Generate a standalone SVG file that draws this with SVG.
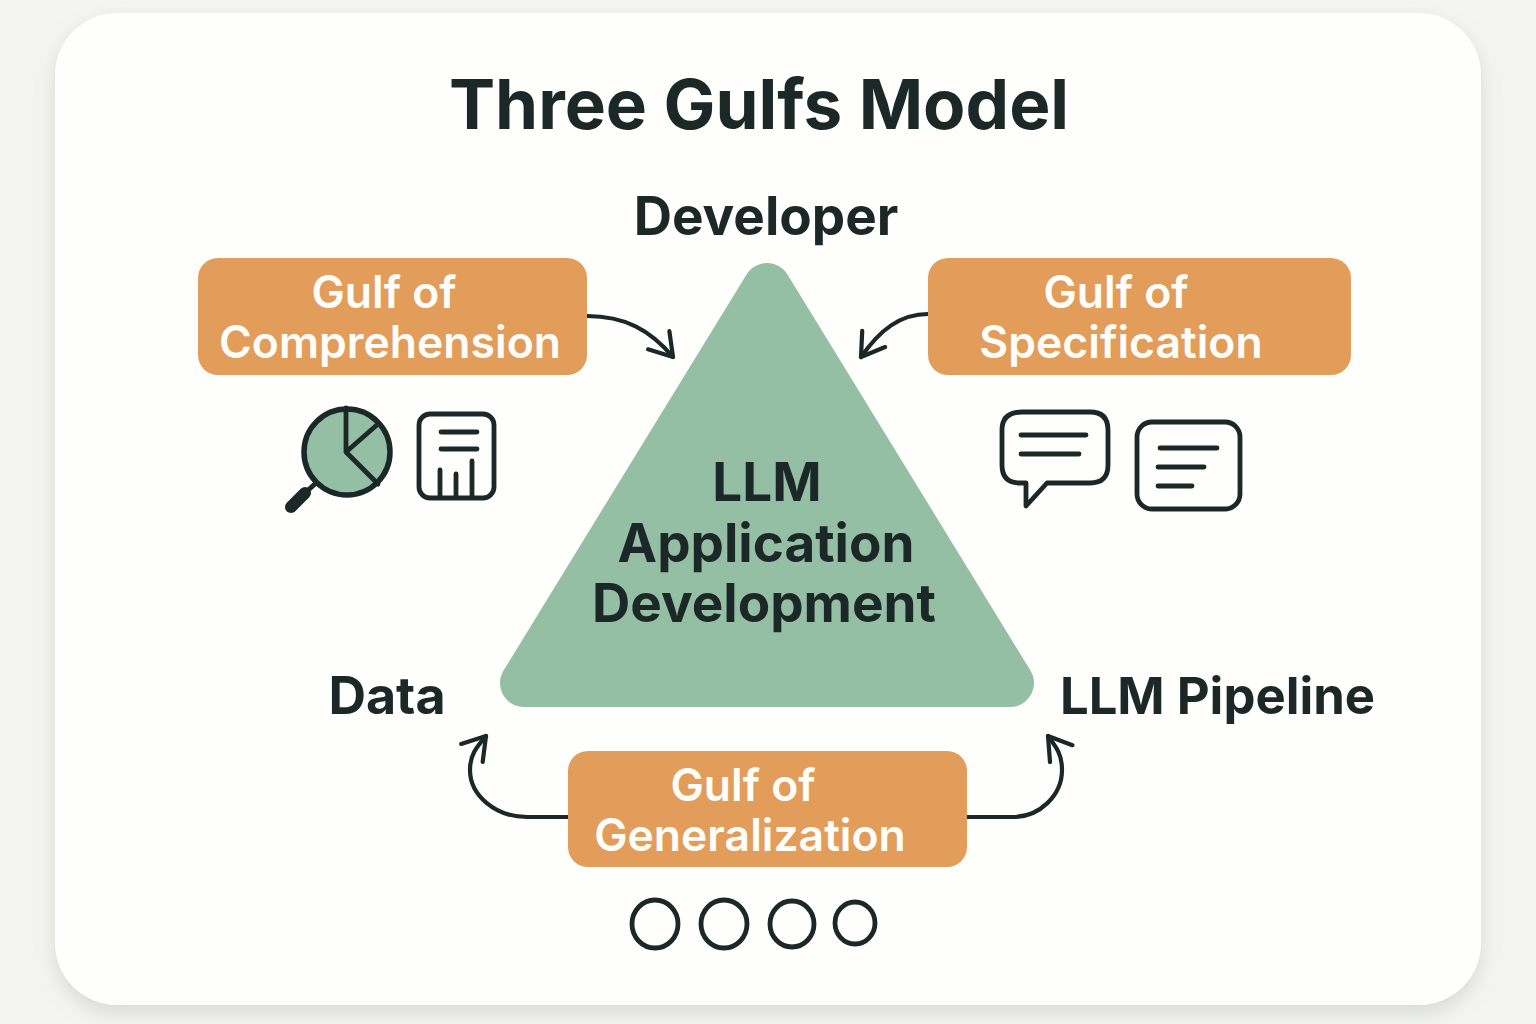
<svg xmlns="http://www.w3.org/2000/svg" width="1536" height="1024" viewBox="0 0 1536 1024">
<defs>
<filter id="sh" x="-5%" y="-5%" width="110%" height="110%"><feDropShadow dx="0" dy="8" stdDeviation="10" flood-color="#7f857d" flood-opacity="0.25"/></filter>
<marker id="ah" markerUnits="userSpaceOnUse" markerWidth="40" markerHeight="40" viewBox="-30 -20 40 40" refX="0" refY="0" orient="auto"><path d="M-22,-14 L0,0 L-22,14" fill="none" stroke="#1b2827" stroke-width="4.2" stroke-linecap="round" stroke-linejoin="round"/></marker>
</defs>
<style>
text{font-family:Inter,"Liberation Sans",sans-serif;text-anchor:middle}
.t{font-weight:700;fill:#1b2827}
.g{font-weight:600;font-size:44.5px;fill:#fffefa}
.box{fill:#e29d5b}
.ln{fill:none;stroke:#1b2827;stroke-width:4.8;stroke-linecap:round;stroke-linejoin:round}
.cn{fill:none;stroke:#1b2827;stroke-width:4.2;stroke-linecap:round}
</style>
<rect width="1536" height="1024" fill="#f4f5f1"/>
<rect x="55" y="13" width="1426" height="992" rx="62" fill="#fefefc" filter="url(#sh)"/>
<text id="title" class="t" x="759" y="129" font-size="69.2">Three Gulfs Model</text>

<g id="triangle">
<path d="M767,287 L1010,683 L524,683 Z" fill="#95bfa4" stroke="#95bfa4" stroke-width="48" stroke-linejoin="round"/>
<text class="t" x="767" y="501" font-size="53">LLM</text>
<text class="t" x="766" y="562" font-size="53">Application</text>
<text class="t" x="764" y="622" font-size="53">Development</text>
</g>
<g id="developer"><text class="t" x="766" y="235" font-size="53">Developer</text></g>
<g id="data"><text class="t" x="387" y="714" font-size="52">Data</text></g>
<g id="pipeline"><text class="t" x="1217.500" y="714" font-size="50.800">LLM Pipeline</text></g>

<g id="connectors">
<path class="cn" d="M587,316 C625,316 650,330 673,357" marker-end="url(#ah)"/>
<path class="cn" d="M928,314 C900,314 880,330 861,357" marker-end="url(#ah)"/>
<path class="cn" d="M568,817 L527,817 C495,817 470,795 470,770 C470,755 476,748 486,736" marker-end="url(#ah)"/>
<path class="cn" d="M967,817 L1013,817 C1040,817 1062,795 1062,770 C1062,755 1057,748 1048,736" marker-end="url(#ah)"/>
</g>

<g id="gulf-comprehension">
<rect class="box" x="198" y="258" width="389" height="117" rx="20"/>
<text class="g" x="384" y="308">Gulf of</text>
<text class="g" x="390" y="358">Comprehension</text>
</g>
<g id="gulf-specification">
<rect class="box" x="928" y="258" width="423" height="117" rx="20"/>
<text class="g" x="1116" y="308">Gulf of</text>
<text class="g" x="1121" y="358">Specification</text>
</g>
<g id="gulf-generalization">
<rect class="box" x="568" y="751" width="399" height="116" rx="20"/>
<text class="g" x="743" y="801">Gulf of</text>
<text class="g" x="750" y="851">Generalization</text>
</g>

<g id="icon-analysis">
<circle cx="347" cy="452" r="43" fill="#95bfa4" stroke="#1b2827" stroke-width="5.500"/>
<path class="ln" d="M346,408 V452 L378,424 M346,452 L378,484" stroke-linecap="butt" stroke-width="5.500"/>
<path d="M305,493 L291,507" stroke="#1b2827" stroke-width="12" stroke-linecap="round"/>
<path d="M316,483 L305,493" stroke="#1b2827" stroke-width="5"/>
<rect class="ln" x="419" y="414" width="75" height="84" rx="11"/>
<path class="ln" d="M441,432 H477 M441,449 H477 M440,470 V496 M456,474 V496 M472,461 V496"/>
</g>
<g id="icon-chat">
<path class="ln" d="M1022,412 H1090 Q1108,412 1108,430 V465 Q1108,483 1090,483 H1047 L1026,506 V483 H1020 Q1002,483 1002,465 V430 Q1002,412 1022,412 Z"/>
<path class="ln" d="M1021,435 H1086 M1021,454 H1079"/>
</g>
<g id="icon-doc">
<rect class="ln" x="1137" y="422" width="103" height="87" rx="15"/>
<path class="ln" d="M1160,448 H1217 M1158,467 H1204 M1158,486 H1192"/>
</g>
<g id="icon-circles">
<ellipse class="ln" cx="655" cy="924" rx="23" ry="24"/>
<ellipse class="ln" cx="724" cy="924" rx="23" ry="24"/>
<ellipse class="ln" cx="792" cy="924" rx="22" ry="23"/>
<ellipse class="ln" cx="855" cy="923" rx="20" ry="21"/>
</g>
</svg>
